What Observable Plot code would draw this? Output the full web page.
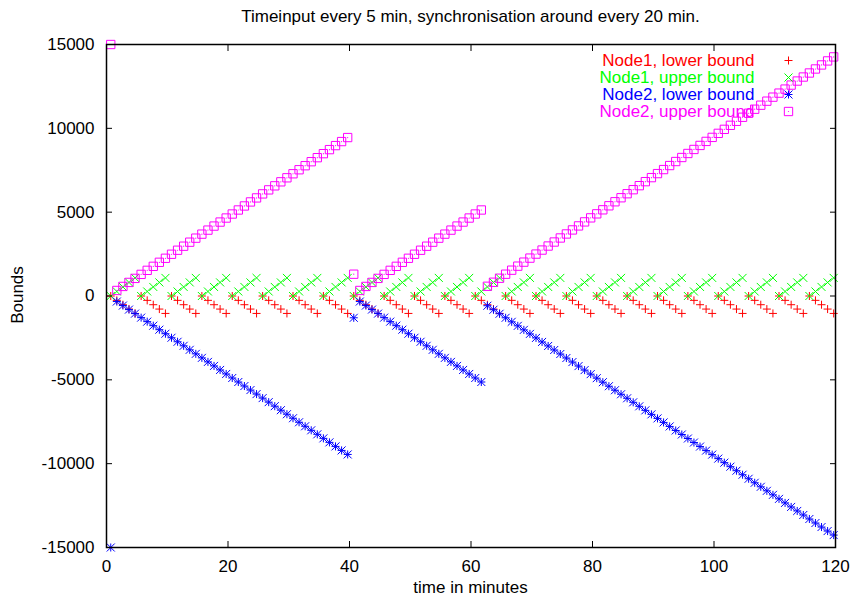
<!DOCTYPE html>
<html><head><meta charset="utf-8">
<script src="https://cdn.jsdelivr.net/npm/d3@7"></script>
<script src="https://cdn.jsdelivr.net/npm/@observablehq/plot@0.6"></script>
<style>
body{margin:0;background:#fff;}
#wrap{position:relative;width:850px;height:600px;font-family:"Liberation Sans",Arial,sans-serif;}
#wrap svg{position:absolute;left:0;top:0;}
.lbl{position:absolute;font-size:17px;color:#000;white-space:nowrap;transform:translate(-50%,-50%);}
</style></head><body>
<div id="wrap"></div>
<script>
const titleText = "Timeinput every 5 min, synchronisation around every 20 min.";
const xLabel = "time in minutes";
const yLabel = "Bounds";
const xTicks = [0, 20, 40, 60, 80, 100, 120];
const yTicks = [-15000, -10000, -5000, 0, 5000, 10000, 15000];
const seriesNames = ["Node1, lower bound", "Node1, upper bound", "Node2, lower bound", "Node2, upper bound"];
const seriesColors = ["#ff0000", "#00ff00", "#0000ff", "#ff00ff"];

const time = [
0.7,1.7,2.7,3.7,4.7,5.7,6.7,7.7,8.7,9.7,
10.7,11.7,12.7,13.7,14.7,15.7,16.7,17.7,18.7,19.7,
20.7,21.7,22.7,23.7,24.7,25.7,26.7,27.7,28.7,29.7,
30.7,31.7,32.7,33.7,34.7,35.7,36.7,37.7,38.7,39.7,
40.7,41.7,42.7,43.7,44.7,45.7,46.7,47.7,48.7,49.7,
50.7,51.7,52.7,53.7,54.7,55.7,56.7,57.7,58.7,59.7,
60.7,61.7,62.7,63.7,64.7,65.7,66.7,67.7,68.7,69.7,
70.7,71.7,72.7,73.7,74.7,75.7,76.7,77.7,78.7,79.7,
80.7,81.7,82.7,83.7,84.7,85.7,86.7,87.7,88.7,89.7,
90.7,91.7,92.7,93.7,94.7,95.7,96.7,97.7,98.7,99.7,
100.7,101.7,102.7,103.7,104.7,105.7,106.7,107.7,108.7,109.7,
110.7,111.7,112.7,113.7,114.7,115.7,116.7,117.7,118.7,119.7];

const node1Lower = [
0,-260,-520,-780,-1040, 0,-260,-520,-780,-1040, 0,-260,-520,-780,-1040, 0,-260,-520,-780,-1040,
0,-260,-520,-780,-1040, 0,-260,-520,-780,-1040, 0,-260,-520,-780,-1040, 0,-260,-520,-780,-1040,
0,-260,-520,-780,-1040, 0,-260,-520,-780,-1040, 0,-260,-520,-780,-1040, 0,-260,-520,-780,-1040,
0,-260,-520,-780,-1040, 0,-260,-520,-780,-1040, 0,-260,-520,-780,-1040, 0,-260,-520,-780,-1040,
0,-260,-520,-780,-1040, 0,-260,-520,-780,-1040, 0,-260,-520,-780,-1040, 0,-260,-520,-780,-1040,
0,-260,-520,-780,-1040, 0,-260,-520,-780,-1040, 0,-260,-520,-780,-1040, 0,-260,-520,-780,-1040];

const node1Upper = [
0,270,540,810,1080, 0,270,540,810,1080, 0,270,540,810,1080, 0,270,540,810,1080,
0,270,540,810,1080, 0,270,540,810,1080, 0,270,540,810,1080, 0,270,540,810,1080,
0,270,540,810,1080, 0,270,540,810,1080, 0,270,540,810,1080, 0,270,540,810,1080,
0,270,540,810,1080, 0,270,540,810,1080, 0,270,540,810,1080, 0,270,540,810,1080,
0,270,540,810,1080, 0,270,540,810,1080, 0,270,540,810,1080, 0,270,540,810,1080,
0,270,540,810,1080, 0,270,540,810,1080, 0,270,540,810,1080, 0,270,540,810,1080];

const node2Lower = [
-15000,
-330,-570,-810,-1050,-1290,-1530,-1770,-2010,-2250,-2490,
-2730,-2970,-3210,-3450,-3690,-3930,-4170,-4410,-4650,-4890,
-5130,-5370,-5610,-5850,-6090,-6330,-6570,-6810,-7050,-7290,
-7530,-7770,-8010,-8250,-8490,-8730,-8970,-9210,-9450,
-1300,
-330,-570,-810,-1050,-1290,-1530,-1770,-2010,-2250,-2490,
-2730,-2970,-3210,-3450,-3690,-3930,-4170,-4410,-4650,-4890,
-5130,
-580,-820,-1060,-1300,-1540,-1780,-2020,-2260,-2500,-2740,
-2980,-3220,-3460,-3700,-3940,-4180,-4420,-4660,-4900,-5140,
-5380,-5620,-5860,-6100,-6340,-6580,-6820,-7060,-7300,-7540,
-7780,-8020,-8260,-8500,-8740,-8980,-9220,-9460,-9700,-9940,
-10180,-10420,-10660,-10900,-11140,-11380,-11620,-11860,-12100,-12340,
-12580,-12820,-13060,-13300,-13540,-13780,-14020,-14260];

const node2Upper = [
15000,
330,570,810,1050,1290,1530,1770,2010,2250,2490,
2730,2970,3210,3450,3690,3930,4170,4410,4650,4890,
5130,5370,5610,5850,6090,6330,6570,6810,7050,7290,
7530,7770,8010,8250,8490,8730,8970,9210,9450,
1300,
330,570,810,1050,1290,1530,1770,2010,2250,2490,
2730,2970,3210,3450,3690,3930,4170,4410,4650,4890,
5130,
580,820,1060,1300,1540,1780,2020,2260,2500,2740,
2980,3220,3460,3700,3940,4180,4420,4660,4900,5140,
5380,5620,5860,6100,6340,6580,6820,7060,7300,7540,
7780,8020,8260,8500,8740,8980,9220,9460,9700,9940,
10180,10420,10660,10900,11140,11380,11620,11860,12100,12340,
12580,12820,13060,13300,13540,13780,14020,14260];

const rows = vals => time.map((t, i) => ({t, v: vals[i]}));
const n1l = rows(node1Lower), n1u = rows(node1Upper), n2l = rows(node2Lower), n2u = rows(node2Upper);

const FS = 17;
const R_PLUS = 2.7, R_TIMES = 3.72, R_SQ = 5.3;

const legendMarks = [];
seriesNames.forEach((name, i) => {
  const dy = 16 + 17 * i;
  legendMarks.push(Plot.text([name], {frameAnchor: "top-right", textAnchor: "end", lineAnchor: "middle", dx: -81, dy, fill: seriesColors[i], fontSize: FS, text: d => d}));
  const o = {frameAnchor: "top-right", dx: -47, dy, stroke: seriesColors[i], strokeWidth: 1};
  if (i === 0) legendMarks.push(Plot.dot([0], {...o, symbol: "plus", r: R_PLUS}));
  if (i === 1) legendMarks.push(Plot.dot([0], {...o, symbol: "times", r: R_TIMES}));
  if (i === 2) { legendMarks.push(Plot.dot([0], {...o, symbol: "plus", r: R_PLUS})); legendMarks.push(Plot.dot([0], {...o, symbol: "times", r: R_TIMES})); }
  if (i === 3) { legendMarks.push(Plot.dot([0], {...o, symbol: "square2", r: R_SQ})); legendMarks.push(Plot.dot([0], {frameAnchor: "top-right", dx: -47, dy, r: 0.6, fill: seriesColors[i]})); }
});

const chart = Plot.plot({
  width: 850, height: 600,
  marginTop: 44, marginBottom: 53, marginLeft: 106, marginRight: 15,
  style: {fontFamily: '"Liberation Sans", Arial, sans-serif', fontSize: FS + "px", color: "#000", background: "#fff"},
  x: {domain: [0, 120], label: null},
  y: {domain: [-15000, 15000], label: null},
  marks: [
    Plot.dot(n1l, {x: "t", y: "v", symbol: "plus", stroke: seriesColors[0], r: R_PLUS, strokeWidth: 1}),
    Plot.dot(n1u, {x: "t", y: "v", symbol: "times", stroke: seriesColors[1], r: R_TIMES, strokeWidth: 1}),
    Plot.dot(n2l, {x: "t", y: "v", symbol: "plus", stroke: seriesColors[2], r: R_PLUS, strokeWidth: 1}),
    Plot.dot(n2l, {x: "t", y: "v", symbol: "times", stroke: seriesColors[2], r: R_TIMES, strokeWidth: 1}),
    Plot.dot(n2u, {x: "t", y: "v", symbol: "square2", stroke: seriesColors[3], r: R_SQ, strokeWidth: 1}),
    Plot.dot(n2u, {x: "t", y: "v", r: 0.6, fill: seriesColors[3]}),
    ...legendMarks,
    Plot.frame({stroke: "#000", strokeWidth: 1.5}),
    Plot.axisX(xTicks, {anchor: "bottom", tickSize: -6, tickPadding: 18, fontSize: FS, tickFormat: d => String(d), label: null}),
    Plot.axisX(xTicks, {anchor: "top", tickSize: -6, tickFormat: () => "", label: null}),
    Plot.axisY(yTicks, {anchor: "left", tickSize: -6, tickPadding: 18, fontSize: FS, tickFormat: d => String(d), label: null}),
    Plot.axisY(yTicks, {anchor: "right", tickSize: -6, tickFormat: () => "", label: null})
  ]
});
const wrap = document.getElementById("wrap");
wrap.appendChild(chart);
const addLabel = (txt, x, y, rot) => {
  const d = document.createElement("div");
  d.className = "lbl";
  d.textContent = txt;
  d.style.left = x + "px"; d.style.top = y + "px";
  if (rot) d.style.transform = "translate(-50%,-50%) rotate(-90deg)";
  wrap.appendChild(d);
};
addLabel(titleText, 470.5, 17);
addLabel(xLabel, 470.5, 588);
addLabel(yLabel, 18, 295, true);
</script>
</body></html>
